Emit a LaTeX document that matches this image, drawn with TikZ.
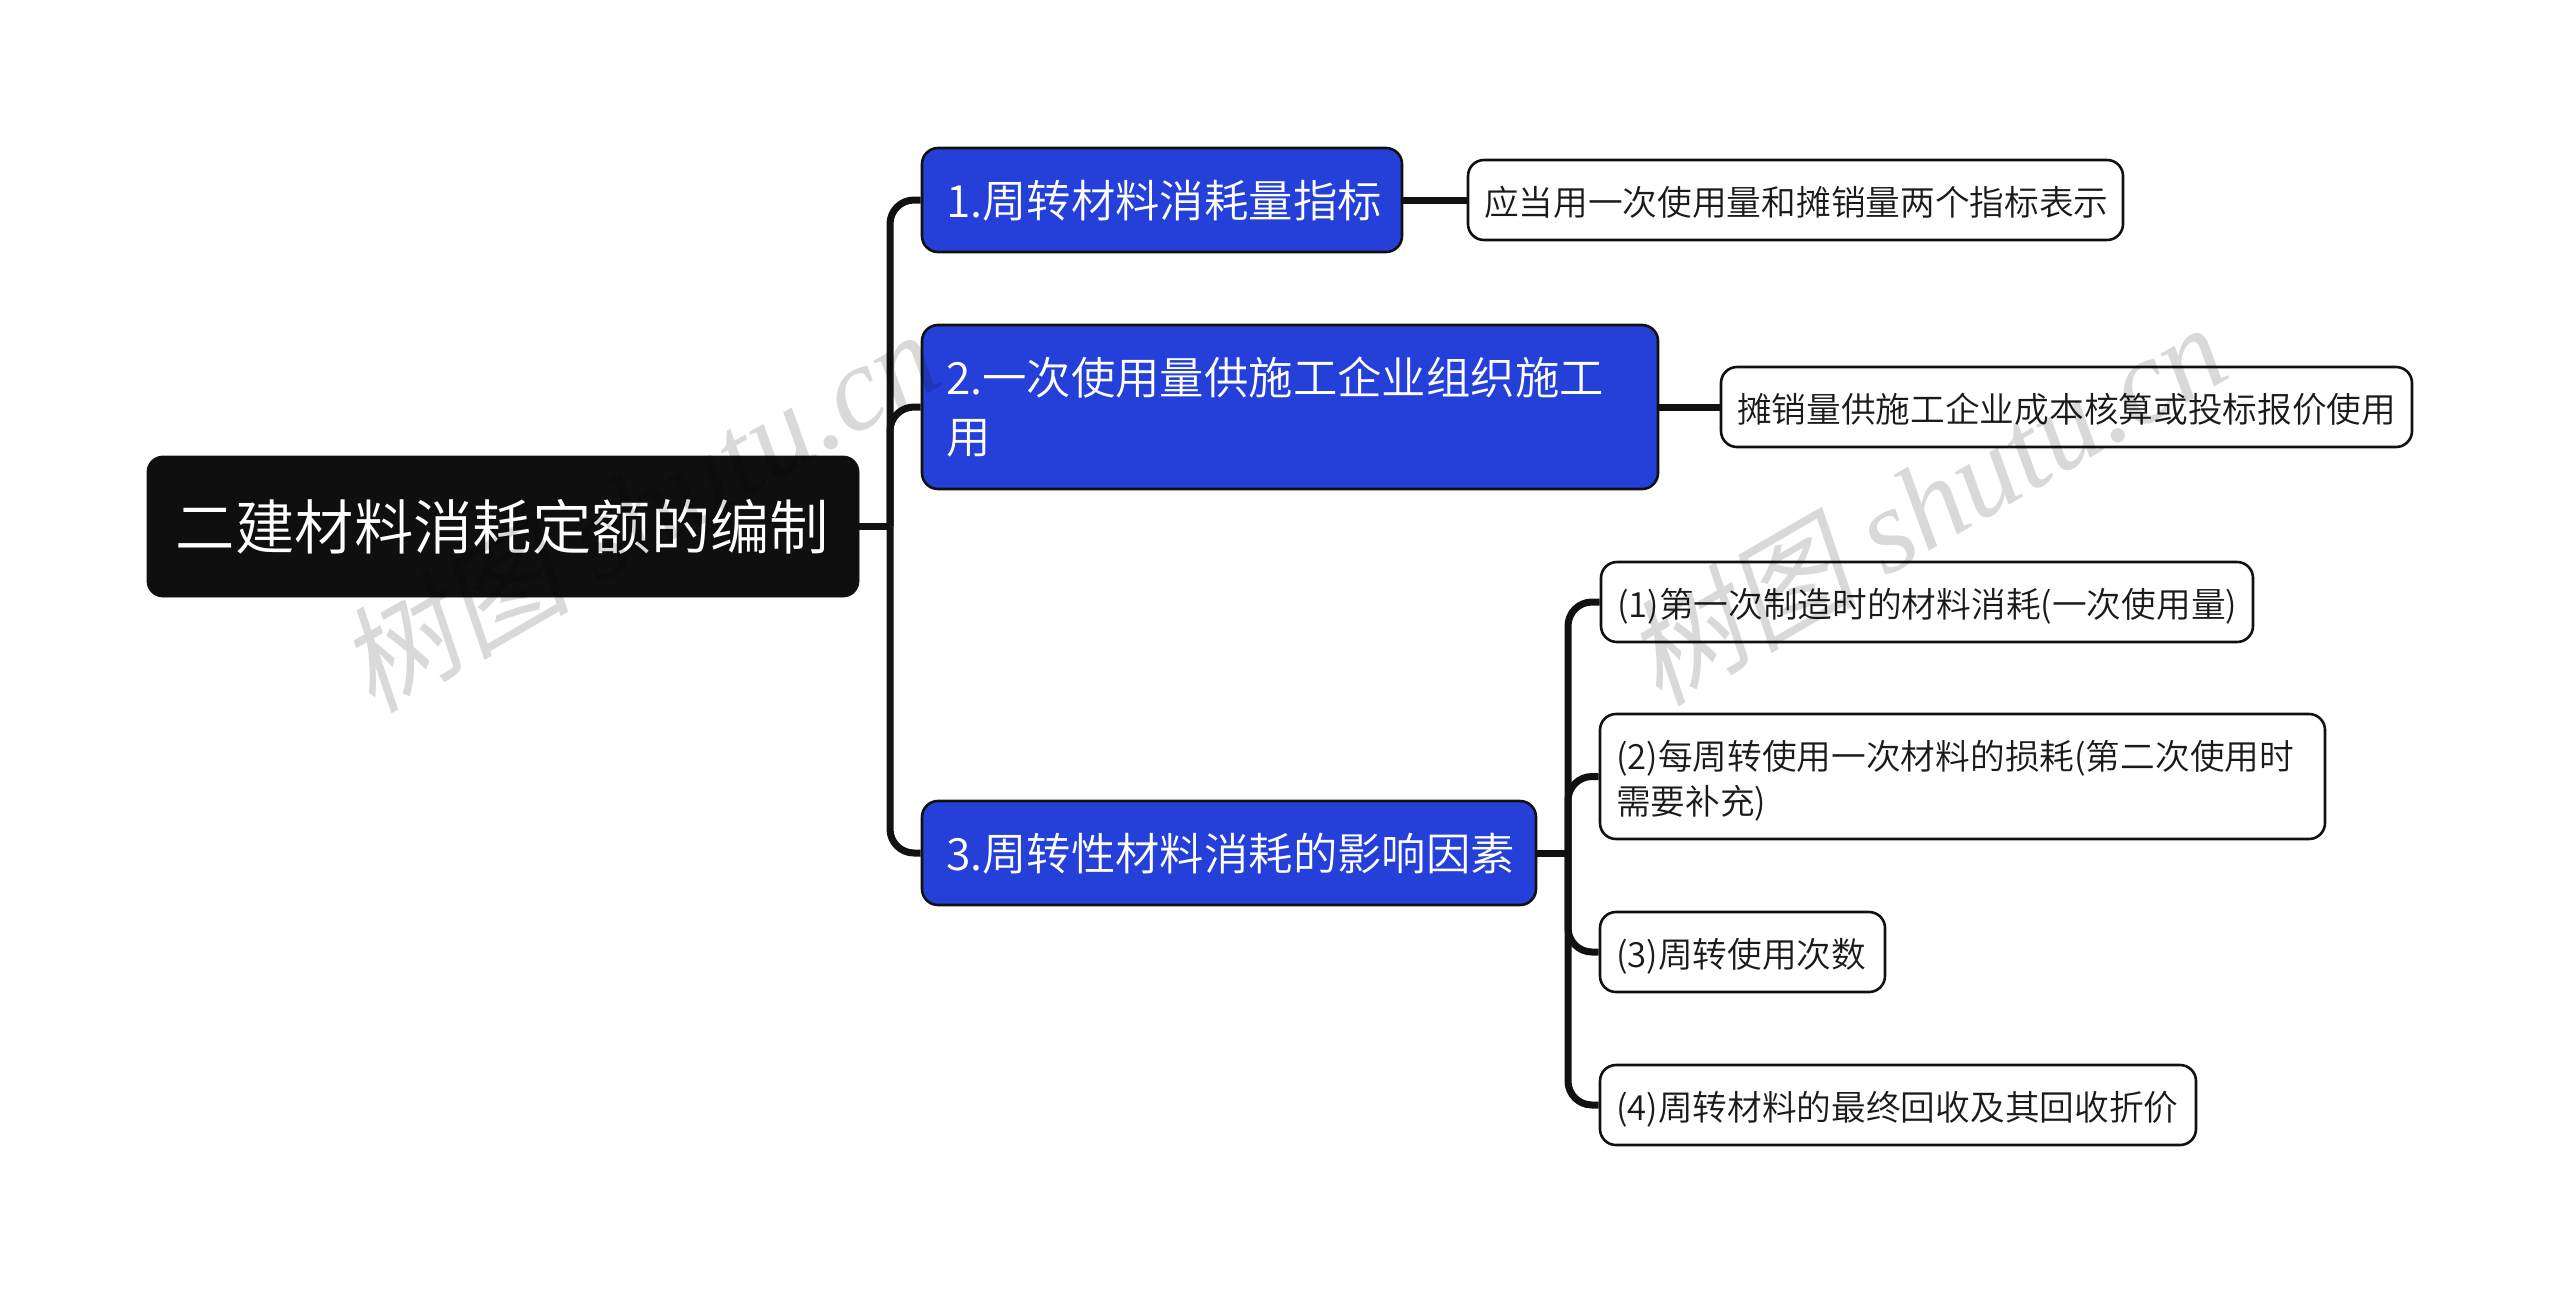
\documentclass[tikz,border=0pt]{standalone}
\usepackage{fontspec}
\setmainfont{Noto Sans CJK SC DemiLight}
\newfontfamily\wmcjk[FakeSlant=0.2]{Noto Sans CJK SC}
\newfontfamily\wmlat{Liberation Serif}
\usetikzlibrary{calc}
\definecolor{rootfill}{HTML}{0F0F0F}
\definecolor{bluefill}{HTML}{2440D8}
\definecolor{inkline}{HTML}{111111}
\definecolor{leafink}{HTML}{1A1A1A}
\definecolor{wmgray}{HTML}{D9D9D9}
\newcommand{\lowleaf}[1]{\raisebox{-1.0pt}[0.88em][0.12em]{#1}}
\newcommand{\lowblue}[1]{\raisebox{-0.2pt}[0.88em][0.12em]{#1}}
\tikzset{
  box/.style={draw=inkline,rounded corners=8pt,align=left,inner ysep=0pt},
  rootbox/.style={box,fill=rootfill,draw=rootfill,text=white,inner xsep=14.4pt,font=\fontsize{29.7}{34}\selectfont},
  bluebox/.style={box,fill=bluefill,line width=1.3pt,text=white,inner xsep=12pt,font=\fontsize{22.2}{29.5}\selectfont},
  leafbox/.style={box,fill=white,line width=1.3pt,text=leafink,inner xsep=8pt,font=\fontsize{17.35}{22.5}\selectfont},
  conn/.style={draw=inkline,line width=3.5pt,rounded corners=12pt},
  watermark/.style={text=wmgray,rotate=30,inner sep=0pt}
}
\newcommand{\wmtext}{{\fontsize{58}{62}\selectfont\wmcjk 树图}\hspace{14pt}{\fontsize{60}{62}\selectfont\wmlat\itshape shutu.cn}}
\begin{document}
\begin{tikzpicture}[x=0.5pt,y=-0.5pt]
\useasboundingbox[fill=white] (0,0) rectangle (2560,1292);
% nodes
\node[rootbox,minimum width=356pt,text width=327.2pt,minimum height=70.5pt] (root) at (503,526.5) {二建材料消耗定额的编制};
\node[bluebox,minimum width=240pt,text width=216pt,minimum height=52pt] (b1) at (1162,200) {\lowblue{1.周转材料消耗量指标}};
\node[bluebox,minimum width=368pt,text width=344pt,minimum height=82pt] (b2) at (1290,407) {2.一次使用量供施工企业组织施工\\用};
\node[bluebox,minimum width=307pt,text width=283pt,minimum height=52pt] (b3) at (1229,853) {\lowblue{3.周转性材料消耗的影响因素}};
\node[leafbox,minimum width=327.5pt,text width=311.5pt,minimum height=40pt] (l1) at (1795.5,200) {\lowleaf{应当用一次使用量和摊销量两个指标表示}};
\node[leafbox,minimum width=345.5pt,text width=329.5pt,minimum height=40pt] (l2) at (2066.5,407) {\lowleaf{摊销量供施工企业成本核算或投标报价使用}};
\node[leafbox,minimum width=326pt,text width=310pt,minimum height=40pt] (f1) at (1927,602) {\lowleaf{(1)第一次制造时的材料消耗(一次使用量)}};
\node[leafbox,minimum width=362.5pt,text width=346.5pt,minimum height=62.5pt] (f2) at (1962.5,776.5) {\lowleaf{(2)每周转使用一次材料的损耗(第二次使用时}\\\lowleaf{需要补充)}};
\node[leafbox,minimum width=142.5pt,text width=126.5pt,minimum height=40pt] (f3) at (1742.5,952) {\lowleaf{(3)周转使用次数}};
\node[leafbox,minimum width=298pt,text width=282pt,minimum height=40pt] (f4) at (1898,1105) {\lowleaf{(4)周转材料的最终回收及其回收折价}};
% connectors
\coordinate (t1) at (890,526.5);
\coordinate (t2) at (1568,853);
\draw[conn] (root.east) -- (t1);
\draw[conn] (t1) -- (t1 |- b1.west) -- (b1.west);
\draw[conn] (t1) -- (t1 |- b2.west) -- (b2.west);
\draw[conn] (t1) -- (t1 |- b3.west) -- (b3.west);
\draw[conn] (b1.east) -- (l1.west);
\draw[conn] (b2.east) -- (l2.west);
\draw[conn] (b3.east) -- (t2);
\draw[conn] (t2) -- (t2 |- f1.west) -- (f1.west);
\draw[conn] (t2) -- (t2 |- f2.west) -- (f2.west);
\draw[conn] (t2) -- (t2 |- f3.west) -- (f3.west);
\draw[conn] (t2) -- (t2 |- f4.west) -- (f4.west);
% watermarks
\begin{scope}[blend mode=multiply]
\node[watermark] (w1) at (638,510) {\wmtext};
\node[watermark] (w2) at (1925,503) {\wmtext};
\end{scope}
\end{tikzpicture}
\end{document}
